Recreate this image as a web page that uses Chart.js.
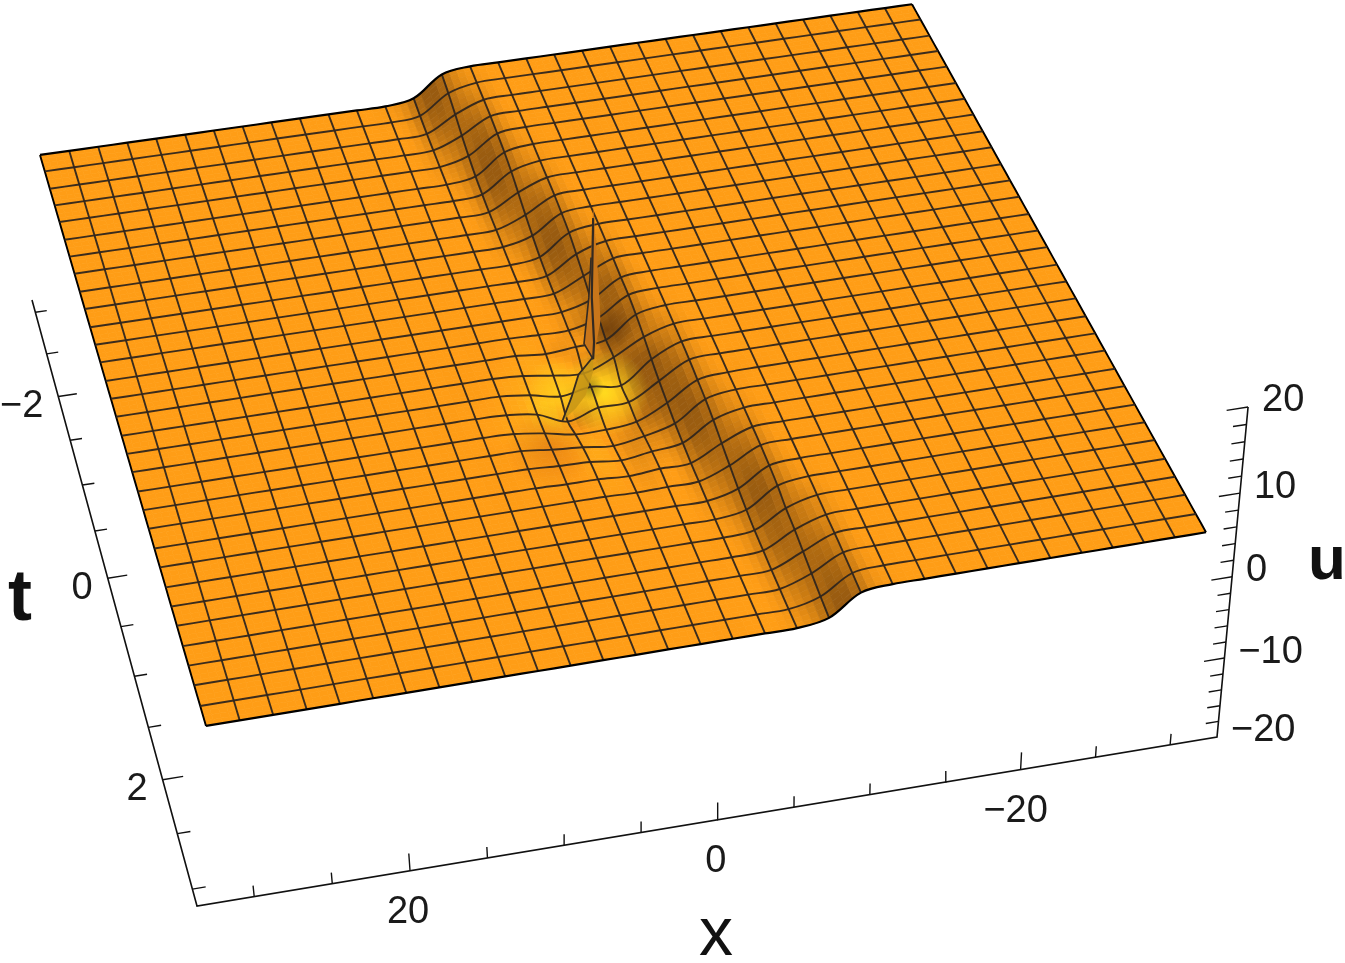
<!DOCTYPE html>
<html>
<head>
<meta charset="utf-8">
<title>u(x,t)</title>
<style>
    html, body { margin: 0; padding: 0; background: #fff; overflow: hidden; }
    canvas { display: block; }
</style>
<script src="https://cdn.jsdelivr.net/npm/chart.js@4/dist/chart.umd.js"></script>
</head>
<body>
<canvas id="surface" width="1345" height="963"></canvas>
<script>
// mesh positions
const xGrid = [31.4,29.37,27.35,25.32,23.3,21.27,19.25,17.22,15.19,13.17,11.14,9.12,7.09,5.06,3.04,1.01,-1.01,-3.04,-5.06,-7.09,-9.12,-11.14,-13.17,-15.19,-17.22,-19.25,-21.27,-23.3,-25.32,-27.35,-29.37,-31.4];
const tGrid = [-3,-2.81,-2.61,-2.42,-2.23,-2.03,-1.84,-1.65,-1.45,-1.26,-1.06,-0.87,-0.68,-0.48,-0.29,-0.1,0.1,0.29,0.48,0.68,0.87,1.06,1.26,1.45,1.65,1.84,2.03,2.23,2.42,2.61,2.81,3];

// u, one row per t, one column per x
const uRows = [
[-1.5,-1.5,-1.5,-1.5,-1.5,-1.5,-1.5,-1.5,-1.5,-1.5,-1.5,-1.5,-1.5,-1,1.4,1.9,1.9,1.9,1.9,1.9,1.9,1.9,1.9,1.9,1.9,1.9,1.9,1.9,1.9,1.9,1.9,1.9],
[-1.5,-1.5,-1.5,-1.5,-1.5,-1.5,-1.5,-1.5,-1.5,-1.5,-1.5,-1.5,-1.5,-1.2,1.05,1.85,1.9,1.9,1.9,1.9,1.9,1.9,1.9,1.9,1.9,1.9,1.9,1.9,1.9,1.9,1.9,1.9],
[-1.5,-1.5,-1.5,-1.5,-1.5,-1.5,-1.5,-1.5,-1.5,-1.5,-1.5,-1.5,-1.5,-1.35,0.5,1.8,1.9,1.9,1.9,1.9,1.9,1.9,1.9,1.9,1.9,1.9,1.9,1.9,1.9,1.9,1.9,1.9],
[-1.5,-1.5,-1.5,-1.5,-1.5,-1.5,-1.5,-1.5,-1.5,-1.5,-1.5,-1.5,-1.5,-1.4,-0.1,1.75,1.9,1.9,1.9,1.9,1.9,1.9,1.9,1.9,1.9,1.9,1.9,1.9,1.9,1.9,1.9,1.9],
[-1.5,-1.5,-1.5,-1.5,-1.5,-1.5,-1.5,-1.5,-1.5,-1.5,-1.5,-1.5,-1.5,-1.45,-0.6,1.6,1.9,1.9,1.9,1.9,1.9,1.9,1.9,1.9,1.9,1.9,1.9,1.9,1.9,1.9,1.9,1.9],
[-1.5,-1.5,-1.5,-1.5,-1.5,-1.5,-1.5,-1.5,-1.5,-1.5,-1.5,-1.5,-1.5,-1.5,-1,1.4,1.9,1.9,1.9,1.9,1.9,1.9,1.9,1.9,1.9,1.9,1.9,1.9,1.9,1.9,1.9,1.9],
[-1.5,-1.5,-1.5,-1.5,-1.5,-1.5,-1.5,-1.5,-1.5,-1.5,-1.5,-1.5,-1.5,-1.5,-1.2,1.05,1.85,1.9,1.9,1.9,1.9,1.9,1.9,1.9,1.9,1.9,1.9,1.9,1.9,1.9,1.9,1.9],
[-1.5,-1.5,-1.5,-1.5,-1.5,-1.5,-1.5,-1.5,-1.5,-1.5,-1.5,-1.5,-1.5,-1.5,-1.35,0.5,1.8,1.9,1.9,1.9,1.9,1.9,1.9,1.9,1.9,1.9,1.9,1.9,1.9,1.9,1.9,1.9],
[-1.5,-1.5,-1.5,-1.5,-1.5,-1.5,-1.5,-1.5,-1.5,-1.5,-1.5,-1.5,-1.5,-1.5,-1.4,-0.1,1.75,1.9,1.9,1.9,1.9,1.9,1.9,1.9,1.9,1.9,1.9,1.9,1.9,1.9,1.9,1.9],
[-1.5,-1.5,-1.5,-1.5,-1.5,-1.5,-1.5,-1.5,-1.5,-1.5,-1.5,-1.5,-1.5,-1.5,-1.45,-0.6,1.6,1.9,1.9,1.9,1.9,1.9,1.9,1.9,1.9,1.9,1.9,1.9,1.9,1.9,1.9,1.9],
[-1.5,-1.5,-1.5,-1.5,-1.5,-1.5,-1.5,-1.5,-1.5,-1.5,-1.5,-1.5,-1.5,-1.5,-1.5,-1.05,1.35,1.9,1.9,1.9,1.9,1.9,1.9,1.9,1.9,1.9,1.9,1.9,1.9,1.9,1.9,1.9],
[-1.5,-1.5,-1.5,-1.5,-1.5,-1.5,-1.5,-1.5,-1.5,-1.5,-1.5,-1.5,-1.5,-1.5,-1.5,-1.3,0.8,1.85,1.9,1.9,1.9,1.9,1.9,1.9,1.9,1.9,1.9,1.9,1.9,1.9,1.9,1.9],
[-1.5,-1.5,-1.5,-1.5,-1.5,-1.5,-1.5,-1.5,-1.5,-1.5,-1.5,-1.5,-1.5,-1.5,-1.5,-1.4,0.2,1.8,1.9,1.9,1.9,1.9,1.9,1.9,1.9,1.9,1.9,1.9,1.9,1.9,1.9,1.9],
[-1.5,-1.5,-1.5,-1.5,-1.5,-1.5,-1.5,-1.5,-1.5,-1.5,-1.5,-1.5,-1.5,-1.5,-1.5,-1.45,-0.5,1.65,1.9,1.9,1.9,1.9,1.9,1.9,1.9,1.9,1.9,1.9,1.9,1.9,1.9,1.9],
[-1.5,-1.5,-1.5,-1.5,-1.5,-1.5,-1.5,-1.5,-1.5,-1.5,-1.5,-1.5,-1.5,-1.5,-1.6,-1.6,-0.6,1.6,1.9,1.9,1.9,1.9,1.9,1.9,1.9,1.9,1.9,1.9,1.9,1.9,1.9,1.9],
[-1.5,-1.5,-1.5,-1.5,-1.5,-1.5,-1.5,-1.5,-1.5,-1.5,-1.5,-1.5,-1.5,-1.5,-1.8,-1.5,-1.2,1.3,1.9,1.9,1.9,1.9,1.9,1.9,1.9,1.9,1.9,1.9,1.9,1.9,1.9,1.9],
[-1.5,-1.5,-1.5,-1.5,-1.5,-1.5,-1.5,-1.5,-1.5,-1.5,-1.5,-1.5,-1.5,-1.7,-2.2,-2.5,-1.1,0.8,1.85,1.9,1.9,1.9,1.9,1.9,1.9,1.9,1.9,1.9,1.9,1.9,1.9,1.9],
[-1.5,-1.5,-1.5,-1.5,-1.5,-1.5,-1.5,-1.5,-1.5,-1.5,-1.5,-1.5,-1.5,-1.9,-2.6,-2,-2.4,0.2,1.8,1.9,1.9,1.9,1.9,1.9,1.9,1.9,1.9,1.9,1.9,1.9,1.9,1.9],
[-1.5,-1.5,-1.5,-1.5,-1.5,-1.5,-1.5,-1.5,-1.5,-1.5,-1.5,-1.5,-1.6,-2.1,-3.5,-2.4,-2.3,-0.3,1.7,1.9,1.9,1.9,1.9,1.9,1.9,1.9,1.9,1.9,1.9,1.9,1.9,1.9],
[-1.5,-1.5,-1.5,-1.5,-1.5,-1.5,-1.5,-1.5,-1.5,-1.5,-1.5,-1.5,-1.6,-2.1,-2.8,-2.8,-2.4,-0.7,1.5,1.85,1.9,1.9,1.9,1.9,1.9,1.9,1.9,1.9,1.9,1.9,1.9,1.9],
[-1.5,-1.5,-1.5,-1.5,-1.5,-1.5,-1.5,-1.5,-1.5,-1.5,-1.5,-1.5,-1.5,-1.9,-2.2,-2.6,-2,-1.05,1.3,1.9,1.9,1.9,1.9,1.9,1.9,1.9,1.9,1.9,1.9,1.9,1.9,1.9],
[-1.5,-1.5,-1.5,-1.5,-1.5,-1.5,-1.5,-1.5,-1.5,-1.5,-1.5,-1.5,-1.5,-1.7,-1.8,-2.2,-1.7,-1.25,0.95,1.85,1.9,1.9,1.9,1.9,1.9,1.9,1.9,1.9,1.9,1.9,1.9,1.9],
[-1.5,-1.5,-1.5,-1.5,-1.5,-1.5,-1.5,-1.5,-1.5,-1.5,-1.5,-1.5,-1.5,-1.6,-1.6,-1.8,-1.5,-1.4,0.4,1.8,1.9,1.9,1.9,1.9,1.9,1.9,1.9,1.9,1.9,1.9,1.9,1.9],
[-1.5,-1.5,-1.5,-1.5,-1.5,-1.5,-1.5,-1.5,-1.5,-1.5,-1.5,-1.5,-1.5,-1.5,-1.5,-1.6,-1.5,-1.45,-0.1,1.75,1.9,1.9,1.9,1.9,1.9,1.9,1.9,1.9,1.9,1.9,1.9,1.9],
[-1.5,-1.5,-1.5,-1.5,-1.5,-1.5,-1.5,-1.5,-1.5,-1.5,-1.5,-1.5,-1.5,-1.5,-1.5,-1.5,-1.5,-1.5,-0.6,1.6,1.9,1.9,1.9,1.9,1.9,1.9,1.9,1.9,1.9,1.9,1.9,1.9],
[-1.5,-1.5,-1.5,-1.5,-1.5,-1.5,-1.5,-1.5,-1.5,-1.5,-1.5,-1.5,-1.5,-1.5,-1.5,-1.5,-1.5,-1.5,-0.95,1.35,1.9,1.9,1.9,1.9,1.9,1.9,1.9,1.9,1.9,1.9,1.9,1.9],
[-1.5,-1.5,-1.5,-1.5,-1.5,-1.5,-1.5,-1.5,-1.5,-1.5,-1.5,-1.5,-1.5,-1.5,-1.5,-1.5,-1.5,-1.5,-1.2,0.85,1.85,1.9,1.9,1.9,1.9,1.9,1.9,1.9,1.9,1.9,1.9,1.9],
[-1.5,-1.5,-1.5,-1.5,-1.5,-1.5,-1.5,-1.5,-1.5,-1.5,-1.5,-1.5,-1.5,-1.5,-1.5,-1.5,-1.5,-1.5,-1.3,0.6,1.8,1.9,1.9,1.9,1.9,1.9,1.9,1.9,1.9,1.9,1.9,1.9],
[-1.5,-1.5,-1.5,-1.5,-1.5,-1.5,-1.5,-1.5,-1.5,-1.5,-1.5,-1.5,-1.5,-1.5,-1.5,-1.5,-1.5,-1.5,-1.4,0.2,1.8,1.9,1.9,1.9,1.9,1.9,1.9,1.9,1.9,1.9,1.9,1.9],
[-1.5,-1.5,-1.5,-1.5,-1.5,-1.5,-1.5,-1.5,-1.5,-1.5,-1.5,-1.5,-1.5,-1.5,-1.5,-1.5,-1.5,-1.5,-1.45,-0.2,1.7,1.9,1.9,1.9,1.9,1.9,1.9,1.9,1.9,1.9,1.9,1.9],
[-1.5,-1.5,-1.5,-1.5,-1.5,-1.5,-1.5,-1.5,-1.5,-1.5,-1.5,-1.5,-1.5,-1.5,-1.5,-1.5,-1.5,-1.5,-1.5,-0.6,1.6,1.9,1.9,1.9,1.9,1.9,1.9,1.9,1.9,1.9,1.9,1.9],
[-1.5,-1.5,-1.5,-1.5,-1.5,-1.5,-1.5,-1.5,-1.5,-1.5,-1.5,-1.5,-1.5,-1.5,-1.5,-1.5,-1.5,-1.5,-1.5,-0.9,1.5,1.9,1.9,1.9,1.9,1.9,1.9,1.9,1.9,1.9,1.9,1.9]
];

// thin needle and fold by the spike, narrower than the mesh can hold
const needleT = 0.3;
const needleX = [0.89,0.55,0.4,0.66,0.89,1.5,1.18,1.03];
const needleU = [19.9,11.3,5.86,3.45,1.4,3.45,8.87,13.7];
const foldX = [0.89,1.87,2.34,2.95,2.04,1.39,0.89];
const foldU = [1.7,-0.2,-2.8,-5.5,-4.2,-2.8,-0.1];

// light and shadow patches on the sheet
const glowX = [0.73,3.58,5.6,-1.1,1.52];
const glowT = [0.54,0.47,1.0,-0.1,0.46];
const glowStrength = [1,0.85,0.38,0.8,0.65];

// axes
const xTicks = [30,25,20,15,10,5,0,-5,-10,-15,-20,-25,-30];
const tTicks = [-3,-2.5,-2,-1.5,-1,-0.5,0,0.5,1,1.5,2,2.5,3];
const uTicks = [20,18,16,14,12,10,8,6,4,2,0,-2,-4,-6,-8,-10,-12,-14,-16,-18];
const xMajor = [20,0,-20];
const tMajor = [-2,0,2];
const uMajor = [20,10,0,-10];
const xTickLabels = ['20','0','\u221220'];
const tTickLabels = ['\u22122','0','2'];
const uLabelValues = [20,10,0,-10,-20];
const uTickLabels = ['20','10','0','\u221210','\u221220'];

const BOX_X_HI = 33.65, BOX_X_LO = -33.15, BOX_T = 3.15;

function homography(c) {
    // c = [back left, back right, front right, front left]
    const [p00, p10, p11, p01] = c;
    const sx = p00[0] - p10[0] + p11[0] - p01[0];
    const sy = p00[1] - p10[1] + p11[1] - p01[1];
    const dx1 = p10[0] - p11[0], dx2 = p01[0] - p11[0];
    const dy1 = p10[1] - p11[1], dy2 = p01[1] - p11[1];
    const den = dx1 * dy2 - dx2 * dy1;
    const g = (sx * dy2 - dx2 * sy) / den;
    const h = (dx1 * sy - sx * dy1) / den;
    return (a, b) => {
        const w = 1 + g * a + h * b;
        return {
            x: ((p10[0] - p00[0] + g * p10[0]) * a + (p01[0] - p00[0] + h * p01[0]) * b + p00[0]) / w,
            y: ((p10[1] - p00[1] + g * p10[1]) * a + (p01[1] - p00[1] + h * p01[1]) * b + p00[1]) / w
        };
    };
}

const sheet = homography([[40, 142.5], [912, 20], [1206, 548], [206, 713.5]]);
const floorPlane = homography([[32, 300], [905, 170], [1217, 737], [197, 906]]);
const U_PX = 8.3;

// sheet point for x, t, u
function project(x, t, u) {
    const a = (31.4 - x) / 62.8;
    const b = (t + 3) / 6;
    const p = sheet(a, b + 0.05 * b * (1 - b));
    return { x: p.x, y: p.y - U_PX * u };
}

// point of the axes box, floor is u = -20
function boxPoint(x, t, u) {
    const p = floorPlane((BOX_X_HI - x) / (BOX_X_HI - BOX_X_LO), (t + BOX_T) / (2 * BOX_T));
    const s = (u + 20) / 40;
    const rise = 330 * s / (s + (1 - s) * 1.06);
    return { x: p.x + rise * (p.x - 760) * 0.000206, y: p.y - rise };
}

// fractional index helpers for the shaded sheet
function cr(p0, p1, p2, p3, f) {
    return 0.5 * (2 * p1 + (p2 - p0) * f + (2 * p0 - 5 * p1 + 4 * p2 - p3) * f * f + (3 * p1 - p0 - 3 * p2 + p3) * f * f * f);
}
function uVal(i, j) {
    const r = uRows[Math.max(0, Math.min(31, j))];
    return r[Math.max(0, Math.min(31, i))];
}
function uAt(fi, fj) {
    const i = Math.max(0, Math.min(30, Math.floor(fi)));
    const j = Math.max(0, Math.min(30, Math.floor(fj)));
    const fx = fi - i, fy = fj - j;
    const col = [];
    for (let k = -1; k <= 2; k++) {
        col.push(cr(uVal(i - 1, j + k), uVal(i, j + k), uVal(i + 1, j + k), uVal(i + 2, j + k), fx));
    }
    return cr(col[0], col[1], col[2], col[3], fy);
}
function xAt(fi) { return 31.4 - fi * 62.8 / 31; }
function tAt(fj) { return -3 + fj * 6 / 31; }

function shadeColor(fi, fj) {
    const s = uAt(fi + 0.5, fj) - uAt(fi - 0.5, fj);
    let r = 255, g = 157, b = 22;
    if (s > 0) {
        const k = Math.min(1, s / 2.3) * 0.85;
        r += (135 - r) * k; g += (80 - g) * k; b += (15 - b) * k;
    } else {
        const k = Math.min(1, -s / 1.6) * 0.7;
        g += (215 - g) * k; b += (30 - b) * k;
    }
    return `rgb(${r | 0},${g | 0},${b | 0})`;
}

const SUB = 4;
const surfacePlugin = {
    id: 'surfacePlugin',
    beforeDatasetsDraw(chart) {
        const ctx = chart.ctx;
        const sx = chart.scales.x, sy = chart.scales.y;
        const toPx = (fi, fj) => {
            const p = project(xAt(fi), tAt(fj), uAt(fi, fj));
            return [sx.getPixelForValue(p.x), sy.getPixelForValue(p.y)];
        };
        ctx.save();
        ctx.lineWidth = 0.7;
        // back to front so that the nearer cells cover the farther ones
        for (let j = 0; j < 31 * SUB; j++) {
            for (let i = 0; i < 31 * SUB; i++) {
                const fi = i / SUB, fj = j / SUB, st = 1 / SUB;
                const c = shadeColor(fi + st / 2, fj + st / 2);
                const a = toPx(fi, fj), b = toPx(fi + st, fj), d = toPx(fi + st, fj + st), e = toPx(fi, fj + st);
                ctx.beginPath();
                ctx.moveTo(a[0], a[1]);
                ctx.lineTo(b[0], b[1]);
                ctx.lineTo(d[0], d[1]);
                ctx.lineTo(e[0], e[1]);
                ctx.closePath();
                ctx.fillStyle = c;
                ctx.strokeStyle = c;
                ctx.fill();
                ctx.stroke();
            }
        }
        // glow and shadow patches
        const tints = ['255,218,30', '255,212,30', '200,85,15', '105,58,10', '125,115,20'];
        const radii = [44, 36, 44, 24, 14];
        glowX.forEach((gx, k) => {
            const p = project(gx, glowT[k], 0);
            const px = sx.getPixelForValue(p.x), py = sy.getPixelForValue(p.y);
            const grad = ctx.createRadialGradient(px, py, 0, px, py, radii[k]);
            grad.addColorStop(0, `rgba(${tints[k]},${glowStrength[k]})`);
            grad.addColorStop(1, `rgba(${tints[k]},0)`);
            ctx.fillStyle = grad;
            ctx.beginPath();
            ctx.arc(px, py, radii[k], 0, Math.PI * 2);
            ctx.fill();
        });
        ctx.restore();
    },
    afterDatasetsDraw(chart) {
        const ctx = chart.ctx;
        const sx = chart.scales.x, sy = chart.scales.y;
        const trace = (xs, us) => {
            ctx.beginPath();
            xs.forEach((vx, k) => {
                const p = project(vx, needleT, us[k]);
                const px = sx.getPixelForValue(p.x), py = sy.getPixelForValue(p.y);
                if (k === 0) ctx.moveTo(px, py); else ctx.lineTo(px, py);
            });
        };
        ctx.save();
        trace(foldX, foldU);
        ctx.closePath();
        ctx.fillStyle = 'rgba(200,150,22,0.85)';
        ctx.fill();
        trace(needleX, needleU);
        ctx.closePath();
        ctx.fillStyle = '#c9761a';
        ctx.fill();
        ctx.strokeStyle = '#332a22';
        ctx.lineWidth = 1.8;
        // fold edge and needle spine
        trace(foldX.slice(0, 4), foldU.slice(0, 4));
        ctx.stroke();
        ctx.lineWidth = 2.2;
        trace([needleX[0], needleX[6] - 0.2, needleX[6] - 0.35, needleX[4]], [needleU[0] - 1.5, needleU[6], needleU[3], needleU[4]]);
        ctx.stroke();
        ctx.lineWidth = 1.6;
        trace(needleX.slice(4, 6).concat(needleX[6], needleX[7]), needleU.slice(4, 6).concat(needleU[6], needleU[7]));
        ctx.stroke();
        ctx.restore();
    },
    afterDraw(chart) {
        const ctx = chart.ctx;
        const sx = chart.scales.x, sy = chart.scales.y;
        ctx.save();
        ctx.fillStyle = '#1a1a1a';
        ctx.textBaseline = 'middle';
        ctx.font = '38px "Liberation Sans", Arial, sans-serif';
        const put = (p, dx, dy, txt) => {
            ctx.fillText(txt, sx.getPixelForValue(p.x) + dx, sy.getPixelForValue(p.y) + dy);
        };
        ctx.textAlign = 'center';
        xMajor.forEach((v, k) => put(boxPoint(v, BOX_T, -20), -2 - (v < 0 ? 3 : 0), 42, xTickLabels[k]));
        ctx.textAlign = 'right';
        tMajor.forEach((v, k) => put(boxPoint(BOX_X_HI, v, -20), -15, 10, tTickLabels[k]));
        ctx.textAlign = 'left';
        uLabelValues.forEach((v, k) => put(boxPoint(BOX_X_LO, BOX_T, v), 14, -6, uTickLabels[k]));
        ctx.textAlign = 'center';
        ctx.fillStyle = '#111';
        ctx.font = '68px "Liberation Sans", Arial, sans-serif';
        ctx.fillText('x', sx.getPixelForValue(716), sy.getPixelForValue(936));
        ctx.font = 'bold 62px "Liberation Sans", Arial, sans-serif';
        ctx.fillText('u', sx.getPixelForValue(1327), sy.getPixelForValue(562));
        ctx.font = 'bold 72px "Liberation Sans", Arial, sans-serif';
        ctx.fillText('t', sx.getPixelForValue(20), sy.getPixelForValue(600));
        ctx.restore();
    }
};

// mesh lines
const meshColor = 'rgba(48,38,30,0.95)';
const datasets = [];
tGrid.forEach((t, j) => {
    const edge = j === 0 || j === 31;
    datasets.push({
        data: xGrid.map((x, i) => project(x, t, uRows[j][i])),
        borderColor: edge ? '#000' : meshColor,
        borderWidth: edge ? 2.2 : 1.9,
        tension: 0.35
    });
});
xGrid.forEach((x, i) => {
    const edge = i === 0 || i === 31;
    datasets.push({
        data: tGrid.map((t, j) => project(x, t, uRows[j][i])),
        borderColor: edge ? '#000' : meshColor,
        borderWidth: 1.9,
        tension: 0.35
    });
});

// axes box and tick marks, NaN breaks the line between two ticks
const gap = { x: NaN, y: NaN };
const tickMarks = [];
xTicks.forEach(v => {
    const up = xMajor.includes(v) ? -17.8 : -18.6;
    tickMarks.push(boxPoint(v, BOX_T, -20), boxPoint(v, BOX_T, up), gap);
});
tTicks.forEach(v => {
    const len = tMajor.includes(v) ? 1.35 : 0.85;
    tickMarks.push(boxPoint(BOX_X_HI, v, -20), boxPoint(BOX_X_HI - len, v, -20), gap);
});
uTicks.forEach(v => {
    const len = uMajor.includes(v) ? 1.35 : 0.85;
    tickMarks.push(boxPoint(BOX_X_LO, BOX_T, v), boxPoint(BOX_X_LO + len, BOX_T, v), gap);
});
datasets.push({
    data: [boxPoint(BOX_X_HI, -BOX_T, -20), boxPoint(BOX_X_HI, BOX_T, -20), boxPoint(BOX_X_LO, BOX_T, -20), boxPoint(BOX_X_LO, BOX_T, 20)],
    borderColor: '#111',
    borderWidth: 1.6,
    tension: 0
});
datasets.push({ data: tickMarks, borderColor: '#111', borderWidth: 1.4, tension: 0, spanGaps: false });

new Chart(document.getElementById('surface').getContext('2d'), {
    type: 'scatter',
    data: { datasets: datasets.map(d => Object.assign({ showLine: true, pointRadius: 0, fill: false, clip: false }, d)) },
    options: {
        responsive: false,
        animation: false,
        events: [],
        layout: { padding: 0 },
        plugins: { legend: { display: false }, tooltip: { enabled: false }, title: { display: false } },
        scales: {
            x: { type: 'linear', display: false, min: 0, max: 1345 },
            y: { type: 'linear', display: false, min: 0, max: 963, reverse: true }
        }
    },
    plugins: [surfacePlugin]
});
</script>
</body>
</html>
